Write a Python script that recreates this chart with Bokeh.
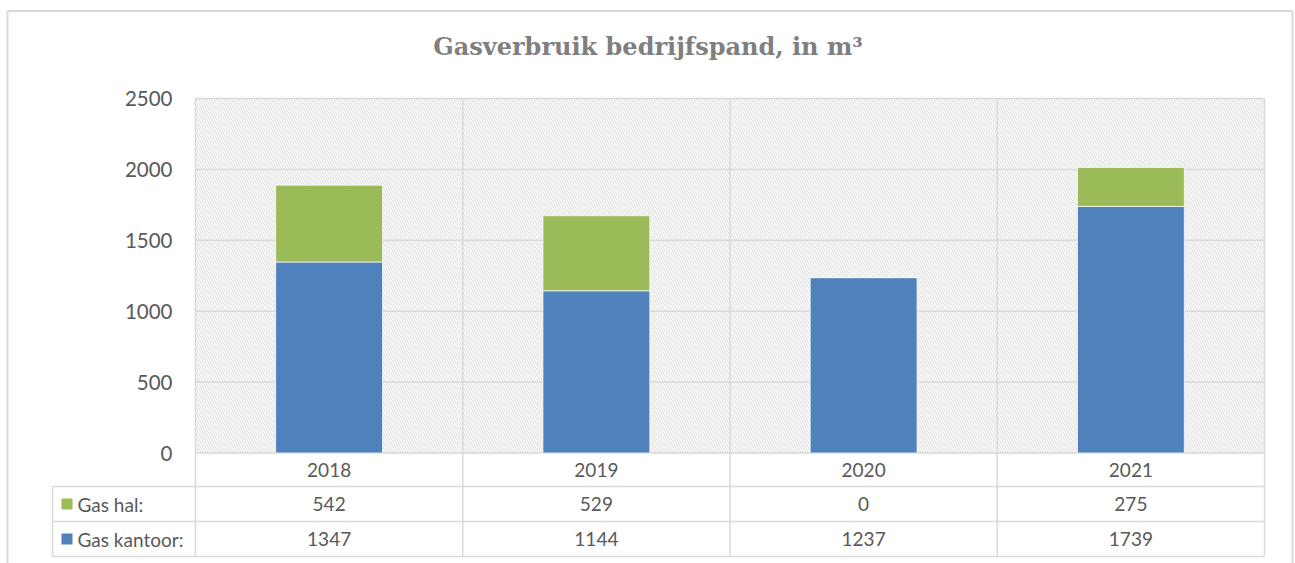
from bokeh.plotting import figure
from bokeh.models import Range1d, ColumnDataSource
from bokeh.embed import file_html
from bokeh.resources import INLINE
from bokeh.core.properties import value

# ---------------- data ----------------
years = ["2018", "2019", "2020", "2021"]
gas_hal = [542, 529, 0, 275]
gas_kantoor = [1347, 1144, 1237, 1739]
series_labels = ["Gas hal:", "Gas kantoor:"]
y_ticks = [0, 500, 1000, 1500, 2000, 2500]
title_text = "Gasverbruik bedrijfspand, in m³"

# ---------------- style ----------------
BLUE = "#4F81BD"
GREEN = "#9BBB59"
GRID = "#d9d9d9"
TEXT = "#595959"
FONT = "Lato"
W, H = 1295, 563

# layout (page px)
PLOT_L, PLOT_R, PLOT_T, ZERO_PX = 195, 1264, 98, 452.5
TAB_L = 52
ROW_EDGES_PX = [452.5, 486, 521, 556]      # year row, gas hal row, gas kantoor row
BORDER_L, BORDER_R, BORDER_T = 7, 1292, 10.5
n = len(years)
CAT_PX = (PLOT_R - PLOT_L) / n
PPU = (ZERO_PX - PLOT_T) / max(y_ticks)


def sx(px):
    return -0.5 + (px - PLOT_L) / CAT_PX


def sy(px):
    return (ZERO_PX - px) / PPU


xs = list(range(n))
x_left, x_right = -0.5, n - 0.5

p = figure(width=W, height=H,
           x_range=Range1d(sx(0), sx(W)), y_range=Range1d(sy(H), sy(0)),
           x_axis_type=None, y_axis_type=None, toolbar_location=None, output_backend="svg",
           min_border_left=0, min_border_right=0, min_border_top=0, min_border_bottom=0)
p.background_fill_color = "white"
p.border_fill_color = "white"
p.outline_line_color = None
p.grid.visible = False

# outer chart border
p.segment(x0=[sx(BORDER_L), sx(BORDER_L), sx(BORDER_R)],
          x1=[sx(BORDER_R), sx(BORDER_L), sx(BORDER_R)],
          y0=[sy(BORDER_T), sy(BORDER_T), sy(BORDER_T)],
          y1=[sy(BORDER_T), sy(H + 5), sy(H + 5)],
          line_color=GRID, line_width=2)

# hatched plot area
p.quad(left=[x_left], right=[x_right], bottom=[0], top=[max(y_ticks)],
       fill_color=None, line_color=None, hatch_pattern="\\", hatch_color="#dadada",
       hatch_scale=5, hatch_weight=1, level="underlay")

# horizontal gridlines (incl. top border and zero line)
p.segment(x0=[x_left] * len(y_ticks), x1=[x_right] * len(y_ticks), y0=y_ticks, y1=y_ticks,
          line_color=GRID, line_width=1.5)
# vertical lines through plot + table
vx = [x_left + i for i in range(n + 1)]
p.segment(x0=vx, x1=vx, y0=[sy(ROW_EDGES_PX[-1])] * len(vx), y1=[max(y_ticks)] * len(vx),
          line_color=GRID, line_width=1.5)
# table horizontal lines (below the year row)
hy = [sy(v) for v in ROW_EDGES_PX[1:]]
p.segment(x0=[sx(TAB_L)] * len(hy), x1=[x_right] * len(hy), y0=hy, y1=hy,
          line_color=GRID, line_width=1.5)
# left border of label column
p.segment(x0=[sx(TAB_L)], x1=[sx(TAB_L)], y0=[sy(ROW_EDGES_PX[1])], y1=[sy(ROW_EDGES_PX[-1])],
          line_color=GRID, line_width=1.5)

# stacked bars
src = ColumnDataSource(dict(x=xs, kantoor=gas_kantoor, hal=gas_hal))
p.vbar_stack(["kantoor", "hal"], x="x", width=0.4, source=src,
             fill_color=[BLUE, GREEN], line_color="white", line_width=0.75)

# y tick labels
p.text(x=[sx(172)] * len(y_ticks), y=y_ticks, text=[str(v) for v in y_ticks],
       text_align="right", text_baseline="middle",
       text_font=value(FONT), text_font_size="20.5px", text_color=TEXT)

# year row
row_mid = [sy((a + b) / 2) for a, b in zip(ROW_EDGES_PX[:-1], ROW_EDGES_PX[1:])]
p.text(x=xs, y=[row_mid[0]] * n, text=years, text_align="center", text_baseline="middle",
       text_font=value(FONT), text_font_size="19px", text_color=TEXT)

# data rows
series = [gas_hal, gas_kantoor]
colors = [GREEN, BLUE]
cx, cy, ct = [], [], []
for ry, vals in zip(row_mid[1:], series):
    for i, v in enumerate(vals):
        cx.append(i); cy.append(ry); ct.append(str(v))
p.text(x=cx, y=cy, text=ct, text_align="center", text_baseline="middle",
       text_font=value(FONT), text_font_size="19px", text_color=TEXT)

p.scatter(x=[sx(66.5)] * 2, y=row_mid[1:], marker="square", size=11,
          fill_color=colors, line_color=None)
p.text(x=[sx(77)] * 2, y=row_mid[1:], text=series_labels,
       text_align="left", text_baseline="middle",
       text_font=value(FONT), text_font_size="19px", text_color=TEXT)

# title
p.text(x=[sx(647.5)], y=[sy(46)], text=[title_text], text_align="center",
       text_baseline="alphabetic", text_font=value("DejaVu Serif"),
       text_font_style="bold", text_font_size="24px", text_color="#7f7f7f")

open("out.html", "w").write(file_html(p, INLINE))
